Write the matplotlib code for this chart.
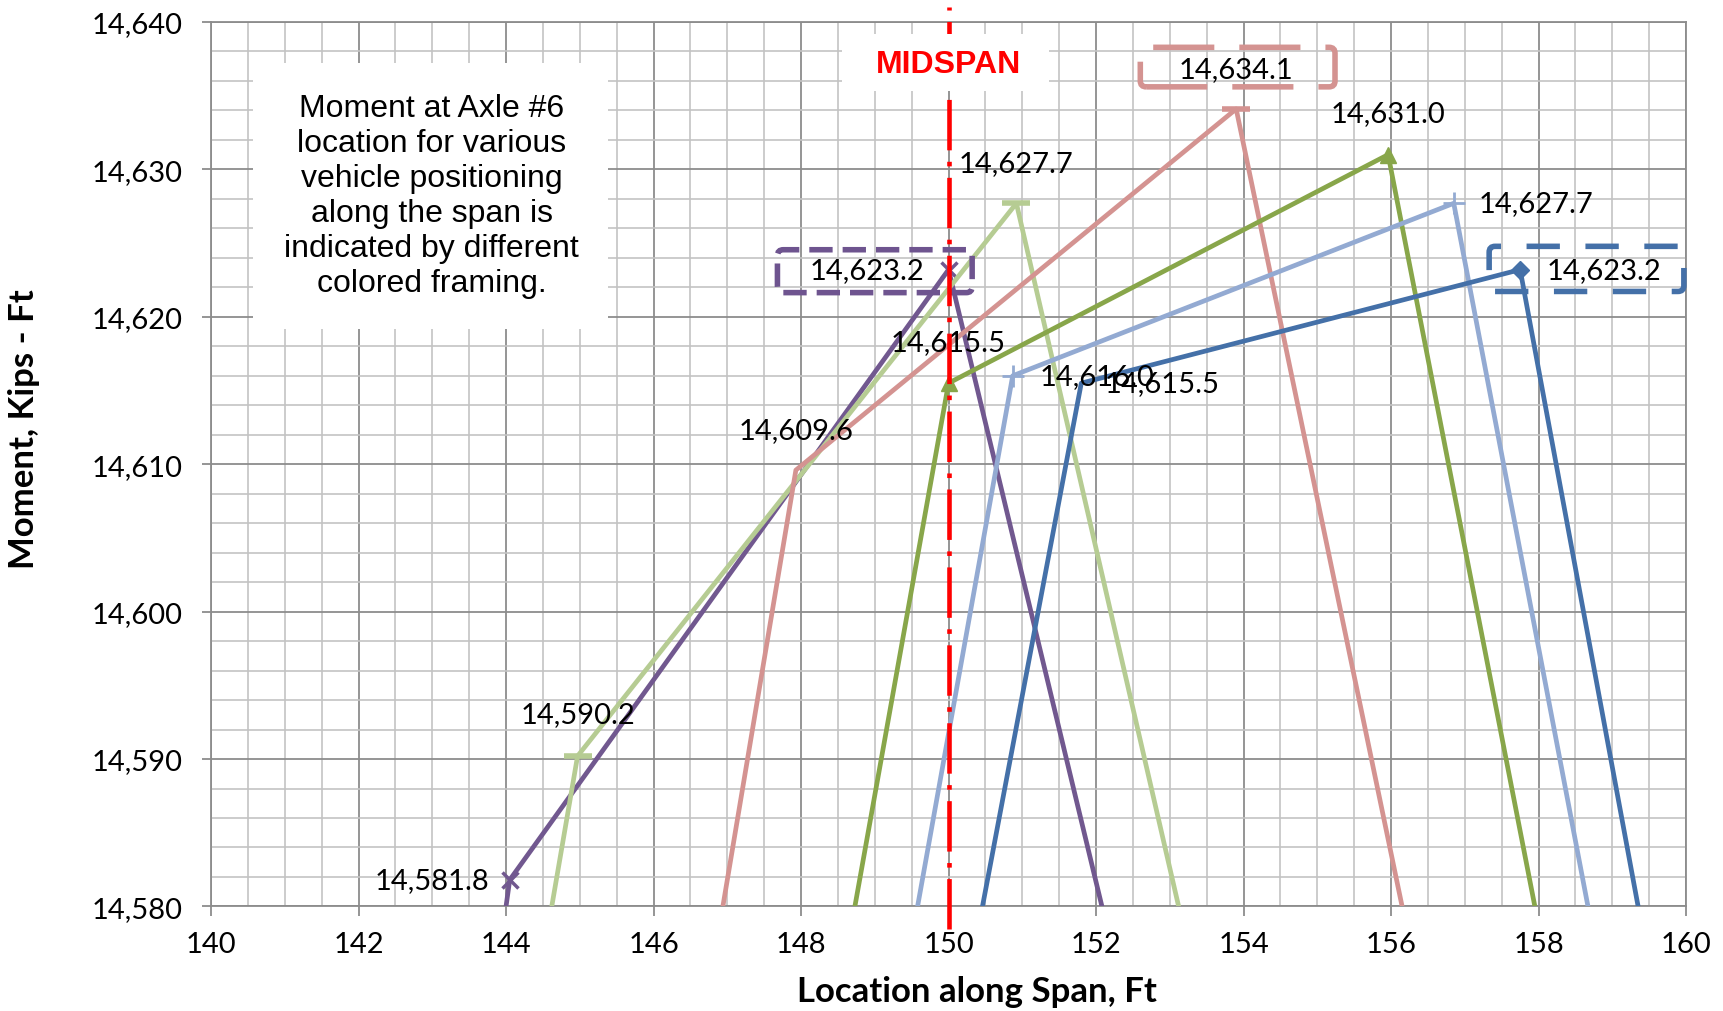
import matplotlib.pyplot as plt
from matplotlib.patches import Rectangle, FancyBboxPatch
from matplotlib.ticker import MultipleLocator, FuncFormatter

plt.rcParams['font.family'] = ['Lato', 'DejaVu Sans']

# vehicle positions: location along span (ft) vs moment at axle #6 (kip-ft)
purple_x = [144.00, 144.05, 150.00, 152.08]
purple_y = [14580.0, 14581.8, 14623.2, 14580.0]

ltgreen_x = [144.62, 144.97, 150.92, 153.12]
ltgreen_y = [14580.0, 14590.2, 14627.7, 14580.0]

pink_x = [146.94, 147.93, 153.90, 156.15]
pink_y = [14580.0, 14609.6, 14634.1, 14580.0]

green_x = [148.73, 150.00, 155.96, 157.95]
green_y = [14580.0, 14615.5, 14631.0, 14580.0]

ltblue_x = [149.58, 150.87, 156.85, 158.67]
ltblue_y = [14580.0, 14616.0, 14627.7, 14580.0]

blue_x = [150.46, 151.80, 157.75, 159.35]
blue_y = [14580.0, 14615.5, 14623.2, 14580.0]

midspan = 150.0

# x, y, colour, marker, size, edge width, which points carry a marker
series = [
    (purple_x, purple_y, '#71588F', 'x', 12, 2.5, [1, 2]),
    (ltgreen_x, ltgreen_y, '#B6CC93', '_', 20, 4, [1, 2]),
    (pink_x, pink_y, '#D49391', '_', 20, 4, [2]),
    (green_x, green_y, '#88A64A', '^', 12, 1, [1, 2]),
    (ltblue_x, ltblue_y, '#93AAD2', '+', 16, 2, [1, 2]),
    (blue_x, blue_y, '#4470A8', 'D', 9, 1, [2]),
]

# label offsets (pixels) for point 1 and point 2 of each series
label_pos = [
    [(-20, 0, 'right'), (-24, 0, 'right')],
    [(0, 42, 'center'), (0, 40, 'center')],
    [(0, 40, 'center'), (0, 40, 'center')],
    [(0, 41, 'center'), (0, 42, 'center')],
    [(27, 0, 'left'), (25, 0, 'left')],
    [(23, 0, 'left'), (26, 0, 'left')],
]

fig = plt.figure(figsize=(17.24, 10.12), dpi=100)
ax = fig.add_axes([0.1224, 0.1033, 0.8556, 0.874])

ax.set_xlim(140, 160)
ax.set_ylim(14580, 14640)
ax.xaxis.set_major_locator(MultipleLocator(2))
ax.xaxis.set_minor_locator(MultipleLocator(0.5))
ax.yaxis.set_major_locator(MultipleLocator(10))
ax.yaxis.set_minor_locator(MultipleLocator(2))
ax.yaxis.set_major_formatter(FuncFormatter(lambda v, p: f'{v:,.0f}'))
ax.grid(which='minor', color='#C3C3C3', lw=1.2, zorder=0)
ax.grid(which='major', color='#8C8C8C', lw=1.3, zorder=0)
ax.set_axisbelow(True)
for s in ax.spines.values():
    s.set_color('#8C8C8C')
    s.set_linewidth(1.3)
ax.tick_params(which='minor', length=0)
ax.tick_params(axis='x', which='major', length=7, width=1.3, color='#8C8C8C', pad=11, labelsize=21)
ax.tick_params(axis='y', which='major', length=6.5, width=1.3, color='#8C8C8C', pad=14, labelsize=21)

for i, (x, y, c, m, ms, mew, mk) in enumerate(series):
    ax.plot(x, y, color=c, lw=3.4, marker=m, markevery=mk, ms=ms, mew=mew,
            mec=c, mfc=c, solid_joinstyle='round', zorder=4)
    for k, (dx, dy, ha) in zip([1, 2], label_pos[i]):
        ax.annotate(f'{y[k]:,.1f}', (x[k], y[k]), xytext=(dx, dy),
                    textcoords='offset pixels', ha=ha, va='center',
                    fontsize=21, color='black', zorder=5)

# dashed frames round the peak moments
frames = [
    (purple_x[2], purple_y[2], -2.32, -1.56, 2.64, 2.91, '#6E548F', (4.2, 1.8)),
    (pink_x[2], pink_y[2], -1.30, 1.50, 2.64, 2.68, '#D49391', (11, 4.5)),
    (blue_x[2], blue_y[2], -0.42, -1.48, 2.64, 3.06, '#4470A8', (6, 4.6)),
]
for px, py, dx, dy, w, h, c, d in frames:
    fb = FancyBboxPatch((px + dx, py + dy), w, h, boxstyle='round,pad=0,rounding_size=0.08',
                        mutation_aspect=5, fill=False, ec=c, lw=4,
                        linestyle=(0, d), zorder=5, clip_on=False)
    ax.add_patch(fb)

# midspan line
ax.axvline(midspan, ymin=-0.025, ymax=1.017, color='#FF0000', lw=3.3,
           dashes=(11, 2.5, 1, 2.5), clip_on=False, zorder=6)
ax.add_patch(Rectangle((0.428, 0.922), 0.140, 0.0644, transform=ax.transAxes,
                       fc='white', ec='none', zorder=7))
ax.text(midspan, 0.9525, 'MIDSPAN', transform=ax.get_xaxis_transform(),
        ha='center', va='center', fontsize=23, fontweight='bold',
        color='#FF0000', family='Liberation Sans', zorder=8)

# note box
ax.add_patch(Rectangle((0.0285, 0.653), 0.2407, 0.301, transform=ax.transAxes,
                       fc='white', ec='none', zorder=3))
ax.text(0.1495, 0.8035,
        'Moment at Axle #6\nlocation for various\nvehicle positioning\n'
        'along the span is\nindicated by different\ncolored framing.',
        transform=ax.transAxes, ha='center', va='center', fontsize=23,
        family='Liberation Sans', linespacing=1.22, zorder=8)

ax.set_xlabel('Location along Span, Ft', fontsize=25, fontweight='bold')
ax.set_ylabel('Moment, Kips - Ft', fontsize=25, fontweight='bold')
ax.xaxis.label.set_va('center')
ax.yaxis.label.set_va('center')
ax.xaxis.set_label_coords(0.519, -0.0955)
ax.yaxis.set_label_coords(-0.127, 0.541)

fig.savefig('out.png', dpi=100)
